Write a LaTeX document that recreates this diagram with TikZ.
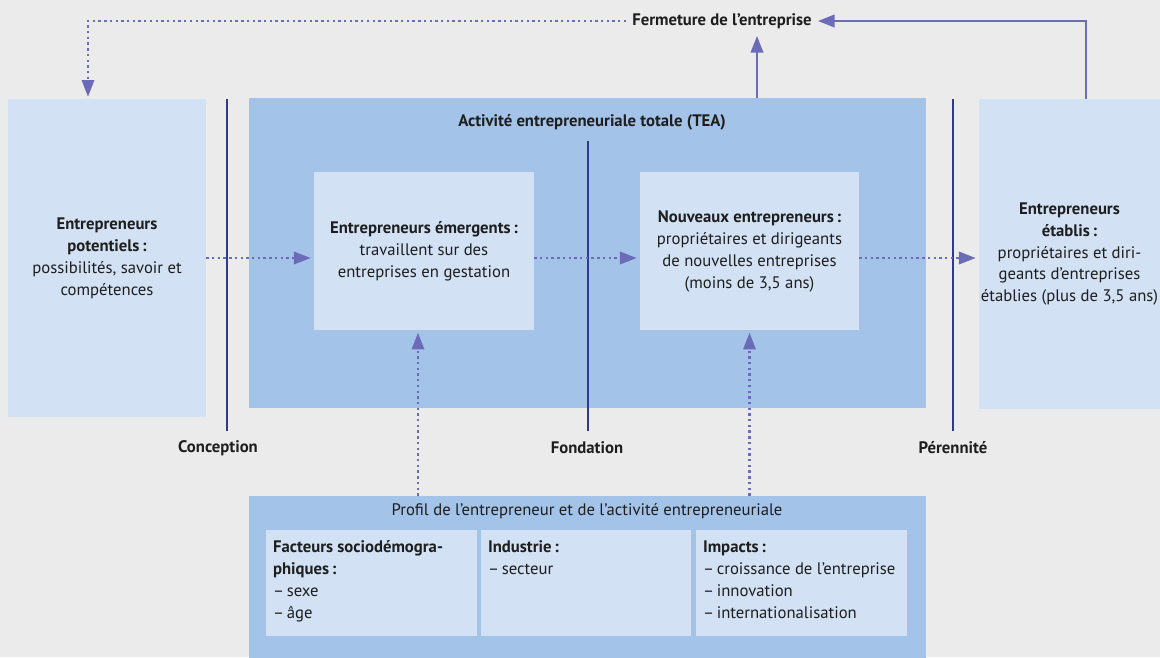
\documentclass[tikz,border=0pt]{standalone}
\usepackage{fontspec}
\setmainfont{PT Sans}
\usetikzlibrary{arrows.meta}
\definecolor{bgcol}{HTML}{EBEBEB}
\definecolor{paleblue}{HTML}{D2E1F4}
\definecolor{midblue}{HTML}{A4C3E9}
\definecolor{navy}{HTML}{2E3A8C}
\definecolor{arrowcol}{HTML}{6B6BB8}
\definecolor{ink}{HTML}{1E1E1E}

\begin{document}
\begin{tikzpicture}[x=0.02cm, y=-0.02cm, font=\fontsize{9.5}{12.5}\selectfont, text=ink,
	pale/.style={fill=paleblue, inner sep=0pt, align=center},
	mid/.style={fill=midblue, inner sep=0pt},
	listtext/.style={anchor=north west, align=left, inner xsep=4pt, inner ysep=6pt},
	phase/.style={navy, line width=1.4pt},
	phaselabel/.style={font=\fontsize{9.5}{12.5}\selectfont\bfseries},
	dotarrow/.style={arrowcol, line width=1.35pt, dash pattern=on 1.35pt off 1.9pt, -{Triangle[length=9.5pt, width=7pt]}},
	solidarrow/.style={arrowcol, line width=1.5pt, -{Triangle[length=9.5pt, width=7pt]}}]
	  \fill[bgcol] (0,0) rectangle (1160,657);
	  \useasboundingbox (0,0) rectangle (1160,657);
	  % boxes
	  \node[pale, minimum width=3.96cm, minimum height=6.36cm] (pot) at (107,258) {\textbf{Entrepreneurs}\\\textbf{potentiels\,:}\\possibilités, savoir et\\compétences};
	  \node[mid, minimum width=13.56cm, minimum height=6.2cm] (tea) at (587.5,253) {};
	  \node[font=\fontsize{9.5}{12.5}\selectfont\bfseries] (teatitle) at (592,122) {Activité entrepreneuriale totale (TEA)};
	  \node[pale, minimum width=4.4cm, minimum height=3.18cm] (emer) at (424,251) {\textbf{Entrepreneurs émergents\,:}\\travaillent sur des\\entreprises en gestation};
	  \node[pale, minimum width=4.38cm, minimum height=3.18cm] (nouv) at (749.5,251) {\textbf{Nouveaux entrepreneurs\,:}\\propriétaires et dirigeants\\de nouvelles entreprises\\(moins de 3,5 ans)};
	  \node[pale, minimum width=3.62cm, minimum height=6.2cm] (etab) at (1069.5,254) {\textbf{Entrepreneurs}\\\textbf{établis\,:}\\propriétaires et diri-\\geants d’entreprises\\établies (plus de 3,5 ans)};
	  \node[mid, minimum width=13.56cm, minimum height=3.24cm] (prof) at (587.5,577) {};
	  \node (proftitle) at (587,511) {Profil de l’entrepreneur et de l’activité entrepreneuriale};
	  \node[pale, minimum width=4.22cm, minimum height=2.12cm] (socio) at (371.5,583) {};
	  \node[pale, minimum width=4.2cm, minimum height=2.12cm] (indus) at (586,583) {};
	  \node[pale, minimum width=4.22cm, minimum height=2.12cm] (impact) at (801.5,583) {};
	  \node[listtext] (sociotxt) at (socio.north west) {\textbf{Facteurs sociodémogra-}\\\textbf{phiques\,:}\\–\,sexe\\–\,âge};
	  \node[listtext] (industxt) at (indus.north west) {\textbf{Industrie\,:}\\–\,secteur};
	  \node[listtext] (impacttxt) at (impact.north west) {\textbf{Impacts\,:}\\–\,croissance de l’entreprise\\–\,innovation\\–\,internationalisation};
	  % phases
	  \draw[phase] (227,99) -- (227,431);
	  \draw[phase] (588,141) -- (588,431);
	  \draw[phase] (953,99) -- (953,431);
	  \node[phaselabel] (conc) at (218,448) {Conception};
	  \node[phaselabel] (fond) at (587,448) {Fondation};
	  \node[phaselabel] (peren) at (953,448) {Pérennité};
	  % flows
	  \coordinate (flow) at (0,258);
	  \draw[dotarrow, shorten >=1.7pt] (pot.east |- flow) -- (emer.west |- flow);
	  \draw[dotarrow, shorten >=1.7pt] (emer.east |- flow) -- (nouv.west |- flow);
	  \draw[dotarrow, shorten >=1.7pt] (nouv.east |- flow) -- (etab.west |- flow);
	  \draw[dotarrow, shorten >=1.1pt] (prof.north -| 418,0) -- (emer.south -| 418,0);
	  \draw[dotarrow, shorten >=1.1pt] (prof.north -| nouv.south) -- (nouv.south);
	  \node[font=\fontsize{9.5}{12.5}\selectfont\bfseries] (ferm) at (722,21) {Fermeture de l’entreprise};
	  \draw[solidarrow, shorten >=0.6pt] (tea.north -| 757,0) -- (ferm.south -| 757,0);
	  \draw[solidarrow] (etab.north -| 1086,0) |- (ferm.east);
	  \draw[dotarrow, shorten >=1.1pt] (ferm.west) -| (pot.north -| 88,0);
	\end{tikzpicture}
\end{document}
